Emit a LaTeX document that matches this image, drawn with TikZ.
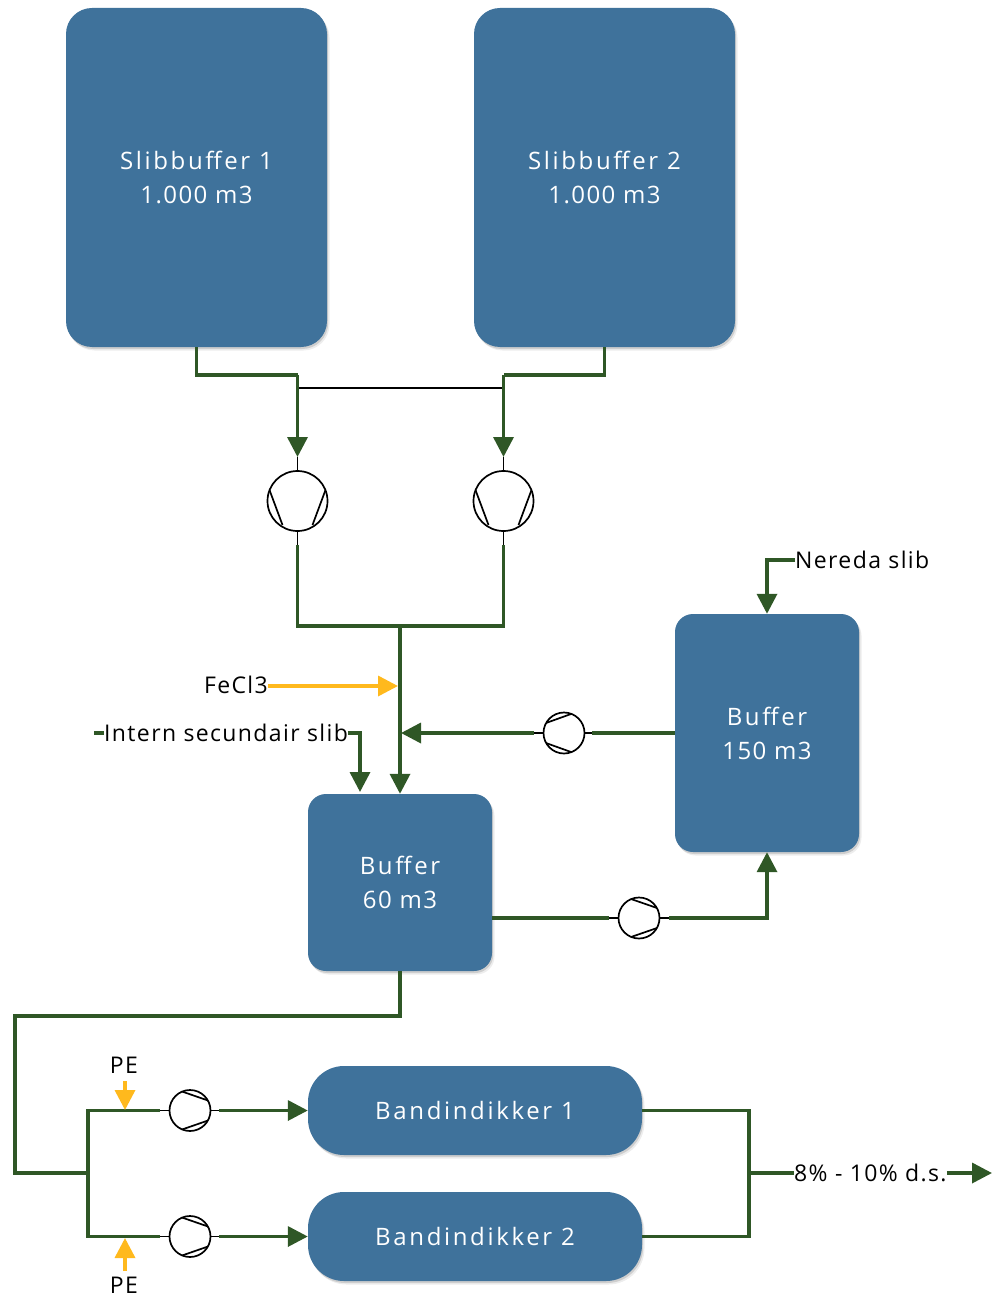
\documentclass[tikz,border=0pt]{standalone}
\usepackage{fontspec}
\setmainfont{Open Sans}
\usetikzlibrary{arrows.meta,shadows}
\definecolor{tankblue}{HTML}{3F729B}
\definecolor{pipegreen}{HTML}{2F5726}
\definecolor{dosyellow}{HTML}{FFB91D}
\newfontfamily\spaced[LetterSpace=11]{Open Sans}
\newfontfamily\spacedn[LetterSpace=6]{Open Sans}
\newfontfamily\spacedb[LetterSpace=6]{Open Sans}
\tikzset{
  tank/.style={fill=tankblue,text=white,align=center,inner sep=0pt,rounded corners=#1,
    font=\fontsize{24}{34}\spaced,
    general shadow={shadow xshift=2.5pt,shadow yshift=-3.5pt,opacity=.07,fill=black},
    general shadow={shadow xshift=1.2pt,shadow yshift=-2pt,opacity=.13,fill=black}},
  lbl/.style={inner sep=0pt,text=black,font=\fontsize{23}{28}\spacedb},
  pipe/.style={draw=pipegreen,line width=3.5pt,line join=miter},
  pipearrow/.style={pipe,-{Triangle[length=20pt,width=20pt,color=pipegreen]}},
  dose/.style={draw=dosyellow,line width=3.5pt,-{Triangle[length=20pt,width=20pt,color=dosyellow]}},
  stub/.style={draw=black,line width=1.7pt},
  pumpbase/.style={circle,draw=black,line width=1.7pt,fill=white,inner sep=0pt,minimum size=#1},
  pumpdown/.style={pumpbase=60pt,path picture={
    \begin{scope}[shift={(path picture bounding box.center)}]
      \draw[stub] (-28,-11) -- (-15,24) (28,-11) -- (15,24);
    \end{scope}}},
  pumpleft/.style={pumpbase=41pt,path picture={
    \begin{scope}[shift={(path picture bounding box.center)}]
      \draw[stub] (-18,-10) -- (7,-19) (-18,10) -- (7,19);
    \end{scope}}},
  pumpright/.style={pumpbase=41pt,path picture={
    \begin{scope}[shift={(path picture bounding box.center)}]
      \draw[stub] (18,-10) -- (-8,-19) (18,10) -- (-8,19);
    \end{scope}}},
}
\begin{document}
\begin{tikzpicture}[x=1pt,y=-1pt]
\useasboundingbox (0,0) rectangle (994,1297);
% tanks
\node[tank=26pt,minimum width=261pt,minimum height=339pt] (s1) at (196.5,177.5) {Slibbuffer 1\\\spacedn 1.000 m3};
\node[tank=26pt,minimum width=261pt,minimum height=339pt] (s2) at (604.5,177.5) {Slibbuffer 2\\\spacedn 1.000 m3};
\node[tank=18pt,minimum width=184pt,minimum height=238pt] (b150) at (767,733) {Buffer\\\spacedn 150 m3};
\node[tank=18pt,minimum width=184pt,minimum height=177pt] (b60) at (400,882.5) {Buffer\\\spacedn 60 m3};
\node[tank=36pt,minimum width=334pt,minimum height=89pt] (d1) at (475,1110.5) {Bandindikker 1};
\node[tank=36pt,minimum width=334pt,minimum height=89pt] (d2) at (475,1236.5) {Bandindikker 2};
% pumps
\node[pumpdown] (p1) at (297.5,501) {};
\node[pumpdown] (p2) at (503.5,501) {};
\node[pumpleft] (p3) at (564,733) {};
\node[pumpright] (p4) at (639,918) {};
\node[pumpright] (p5) at (190,1110.5) {};
\node[pumpright] (p6) at (190,1236.5) {};
% labels
\node[lbl,anchor=east] (fecl) at (268,684.5) {FeCl3};
\node[lbl,anchor=west] (intern) at (104,733) {Intern secundair slib};
\node[lbl,anchor=west] (nereda) at (795,560) {Nereda slib};
\node[lbl] (pe1) at (124,1065) {PE};
\node[lbl] (pe2) at (124,1285) {PE};
\node[lbl,anchor=west] (ds) at (794,1173) {8\% - 10\% d.s.};
% free ends and junctions
\coordinate (a1) at (297.5,375);
\coordinate (a2) at (503.5,375);
\coordinate (t1) at (297.5,457);
\coordinate (t2) at (503.5,457);
\coordinate (u1) at (297.5,545);
\coordinate (u2) at (503.5,545);
\coordinate (j) at (400,626);
\coordinate (j2) at (398,686);
\coordinate (j3) at (401,733);
\coordinate (q3l) at (534,733);
\coordinate (q3r) at (592,733);
\coordinate (q4l) at (609,918);
\coordinate (q4r) at (669,918);
\coordinate (q5l) at (160,1110.5);
\coordinate (q5r) at (219,1110.5);
\coordinate (q6l) at (160,1236.5);
\coordinate (q6r) at (219,1236.5);
\coordinate (m) at (88,1173);
\coordinate (o) at (749,1173);
\coordinate (end) at (992,1173);
\coordinate (dash) at (94,733);
% black link
\draw[stub] (a1) -- (297.5,388) -- (503.5,388) -- (a2);
% pipes top
\draw[pipe] (s1.south) -- (196.5,375) -- (a1);
\draw[pipearrow] (a1) -- (t1);
\draw[pipe] (s2.south) -- (604.5,375) -- (a2);
\draw[pipearrow] (a2) -- (t2);
\draw[stub] (t1) -- (p1.north);
\draw[stub] (t2) -- (p2.north);
\draw[stub] (p1.south) -- (u1);
\draw[stub] (p2.south) -- (u2);
\draw[pipe] (u1) |- (j) -| (u2);
\draw[pipearrow] (j) -- (b60.north);
% dosing and side feeds
\draw[dose] (fecl.east |- j2) -- (j2);
\draw[pipe] (dash) -- (intern.west);
\draw[pipearrow] (intern.east) -- (360,733) -- (360,792);
\draw[pipearrow] (nereda.west) -- (767,560) -- (b150.north);
% buffers
\draw[pipe] (b150.west) -- (q3r);
\draw[stub] (q3r) -- (p3.east);
\draw[stub] (p3.west) -- (q3l);
\draw[pipearrow] (q3l) -- (j3);
\draw[pipe] (b60.east |- q4l) -- (q4l);
\draw[stub] (q4l) -- (p4.west);
\draw[stub] (p4.east) -- (q4r);
\draw[pipearrow] (q4r) -- (767,918) -- (b150.south);
% to thickeners
\draw[pipe] (b60.south) -- (400,1016) -- (15,1016) -- (15,1173) -- (m);
\draw[pipe] (q5l) -- (88,1110.5) -- (88,1236.5) -- (q6l);
\draw[stub] (q5l) -- (p5.west);
\draw[stub] (q6l) -- (p6.west);
\draw[stub] (p5.east) -- (q5r);
\draw[stub] (p6.east) -- (q6r);
\draw[pipearrow] (q5r) -- (d1.west);
\draw[pipearrow] (q6r) -- (d2.west);
\draw[dose] (125,1081) -- (125,1110);
\draw[dose] (125,1271) -- (125,1238);
% outlet
\draw[pipe] (d1.east) -- (749,1110.5) -- (749,1236.5) -- (d2.east);
\draw[pipe] (o) -- (ds.west);
\draw[pipearrow] (ds.east) -- (end);
\end{tikzpicture}
\end{document}
